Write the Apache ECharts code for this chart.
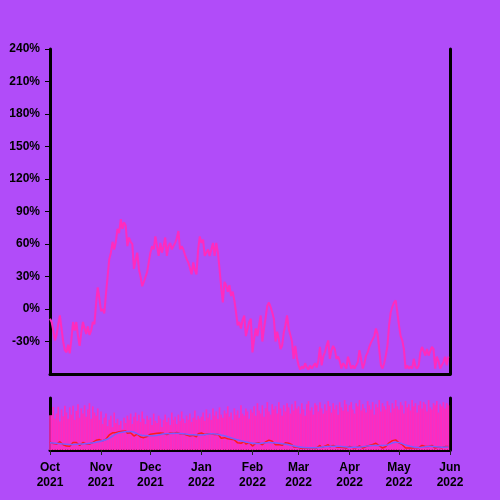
<!DOCTYPE html>
<html>
<head>
<meta charset="utf-8">
<script src="https://cdn.jsdelivr.net/npm/echarts@6/dist/echarts.min.js"></script>
<style>
  html, body { margin: 0; padding: 0; background: #b14cf9; }
  #chart { width: 500px; height: 500px; }
</style>
</head>
<body>
<div id="chart"></div>
<script>
// daily % change, Oct 1 2021 .. May 31 2022
const changePct = [
  -9, -12, -20, -29, -24, -14, -6, -18, -30, -38,
  -40, -33, -41, -28, -12, -20, -12, -25, -34, -22,
  -12, -18, -23, -16, -24, -20, -12, -14, 5, 20,
  10, -2, 0, -4, 14, 30, 46, 52, 62, 55,
  62, 74, 70, 83, 74, 80, 77, 58, 66, 62,
  60, 37, 45, 52, 37, 30, 21, 25, 24, 34,
  43, 52, 58, 55, 67, 58, 49, 61, 52, 58,
  66, 49, 58, 61, 55, 58, 61, 65, 72, 55,
  58, 55, 50, 46, 43, 38, 32, 43, 36, 32,
  55, 67, 61, 64, 49, 52, 55, 49, 55, 61,
  49, 61, 52, 37, 20, 6, 25, 22, 16, 22,
  12, 16, 8, -3, -15, -12, -18, -10, -6, -25,
  -25, -12, -9, -40, -28, -18, -25, -15, -6, -30,
  -18, -8, 3, 6, 2, -3, -9, -30, -21, -28,
  -37, -34, -22, -15, -6, -18, -18, -30, -46, -34,
  -45, -52, -56, -53, -55, -50, -54, -56, -52, -55,
  -55, -50, -54, -48, -35, -52, -44, -40, -34, -29,
  -46, -38, -34, -37, -46, -44, -48, -55, -50, -52,
  -55, -44, -43, -55, -52, -55, -52, -49, -38, -46,
  -55, -50, -43, -40, -35, -31, -28, -25, -18, -23,
  -37, -52, -55, -50, -43, -34, -15, -3, 2, 6,
  8, -3, -15, -25, -29, -37, -55, -52, -55, -53,
  -55, -46, -53, -55, -52, -40, -35, -35, -43, -37,
  -43, -43, -35, -37, -55, -44, -48, -55, -52, -49,
  -44, -52, -44
];

// daily volume, share of the panel height
const volume = [
  67, 67, 83, 60, 70, 83, 55, 78, 65, 85, 72, 60, 82, 68, 85, 58, 75, 88, 62, 80, 70, 86, 64, 78, 90, 60, 84, 72, 66, 80, 58,
  74, 50, 62, 70, 46, 58, 66, 44, 72, 52, 60, 48, 56, 40, 62, 52, 66, 58, 70, 50, 64, 72, 56, 68, 54, 74, 60, 50, 66, 58,
  62, 48, 70, 56, 52, 66, 60, 44, 58, 68, 54, 62, 48, 72, 58, 64, 50, 68, 56, 74, 60, 52, 66, 58, 70, 54, 62, 76, 58, 66, 60,
  64, 72, 56, 78, 62, 70, 58, 80, 66, 74, 60, 82, 68, 62, 76, 70, 84, 64, 72, 58, 80, 68, 76, 62, 86, 70, 66, 80, 74, 60, 78,
  72, 84, 66, 90, 76, 70, 86, 64, 80, 92, 74, 68, 88, 78, 84, 70, 92, 80, 66, 86, 74, 90, 82, 70, 88, 76, 94, 80,
  84, 70, 90, 78, 66, 88, 94, 76, 82, 68, 90, 86, 74, 92, 80, 70, 88, 76, 94, 84, 72, 90, 78, 86, 68, 92, 82, 76, 96, 88, 74,
  86, 92, 78, 70, 90, 84, 96, 76, 88, 80, 72, 94, 86, 78, 92, 68, 88, 82, 96, 74, 90, 84, 78, 94, 86, 72, 90, 80, 96, 84,
  78, 92, 86, 70, 94, 82, 88, 76, 96, 84, 90, 72, 86, 94, 80, 92, 88, 74, 96, 82, 78, 90, 86, 94, 72, 88, 84, 92, 80, 90, 86
];

// smoothed trend, read weekly
const trendDays = [0, 7, 14, 21, 28, 35, 42, 49, 56, 63, 70, 77, 84, 91, 98, 105, 112, 119, 126, 133, 140, 147, 154, 161, 168, 175, 182, 189, 196, 203, 210, 217, 224, 231, 238, 242];
const trendValues = [-15, -22, -28, -22, -10, 15, 62, 72, 42, 40, 55, 58, 50, 45, 55, 42, 15, -8, -20, -12, -20, -35, -50, -52, -44, -42, -48, -46, -35, -35, -10, -35, -50, -42, -48, -47];

const monthNames = ['Jan', 'Feb', 'Mar', 'Apr', 'May', 'Jun', 'Jul', 'Aug', 'Sep', 'Oct', 'Nov', 'Dec'];

const days = [];
for (let t = Date.UTC(2021, 9, 1); t <= Date.UTC(2022, 5, 1); t += 86400000) {
  days.push(new Date(t).toISOString().slice(0, 10));
}
const isMonthStart = (index, value) => value.slice(8) === '01';
const monthLabel = (value) => monthNames[Number(value.slice(5, 7)) - 1] + '\n' + value.slice(0, 4);

const trend = days.map(() => null);
trendDays.forEach((d, i) => { trend[d] = trendValues[i]; });

const axisLine = { show: true, onZero: false, lineStyle: { color: '#000', width: 3 } };
const font = { fontFamily: 'Liberation Sans', fontSize: 12, fontWeight: 'bold', color: '#000' };

const chart = echarts.init(document.getElementById('chart'));
chart.setOption({
  backgroundColor: '#b14cf9',
  animation: false,
  grid: [
    { left: 50, right: 50, top: 49, bottom: 126 },
    { left: 50, right: 50, top: 398, bottom: 50 }
  ],
  xAxis: [
    {
      gridIndex: 0, type: 'category', data: days, boundaryGap: false,
      axisLine, axisTick: { show: false }, axisLabel: { show: false }
    },
    {
      gridIndex: 1, type: 'category', data: days, boundaryGap: false,
      axisLine,
      axisTick: { interval: isMonthStart, length: 5, lineStyle: { color: '#222', width: 1 } },
      axisLabel: { ...font, interval: isMonthStart, formatter: monthLabel, lineHeight: 15, margin: 10 }
    }
  ],
  yAxis: [
    {
      gridIndex: 0, type: 'value', min: -60, max: 240, interval: 30,
      axisLine, splitLine: { show: false },
      axisTick: { show: true, length: 5, lineStyle: { color: '#000', width: 1 } },
      axisLabel: { ...font, margin: 10, showMinLabel: false, formatter: '{value}%' }
    },
    {
      gridIndex: 0, type: 'value', position: 'right', min: -60, max: 240,
      axisLine, splitLine: { show: false }, axisTick: { show: false }, axisLabel: { show: false }
    },
    {
      gridIndex: 1, type: 'value', min: 0, max: 100,
      axisLine, splitLine: { show: false }, axisTick: { show: false }, axisLabel: { show: false }
    },
    {
      gridIndex: 1, type: 'value', position: 'right', min: -70, max: 330,
      axisLine, splitLine: { show: false }, axisTick: { show: false }, axisLabel: { show: false }
    }
  ],
  series: [
    {
      type: 'line', xAxisIndex: 0, yAxisIndex: 0, data: changePct,
      symbol: 'none', lineStyle: { color: '#ff2bbd', width: 2 }
    },
    {
      type: 'bar', xAxisIndex: 1, yAxisIndex: 2, data: volume,
      barCategoryGap: '0%', itemStyle: { color: '#ff2bbd' }
    },
    {
      type: 'line', xAxisIndex: 1, yAxisIndex: 3, data: changePct,
      symbol: 'none', lineStyle: { color: '#ff1a1a', width: 1.5 }, z: 3
    },
    {
      type: 'line', xAxisIndex: 1, yAxisIndex: 3, data: trend, connectNulls: true,
      symbol: 'none', smooth: true, lineStyle: { color: '#7a5cff', width: 1.5 }, z: 4
    }
  ]
});
</script>
</body>
</html>
